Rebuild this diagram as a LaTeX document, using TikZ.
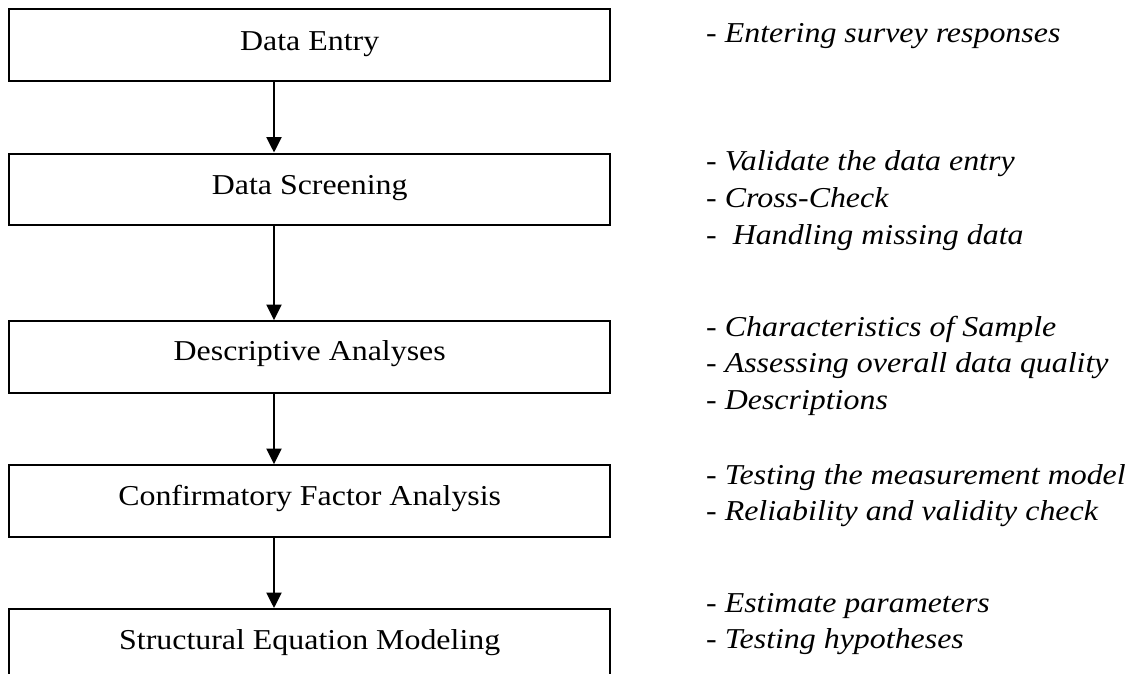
\documentclass[tikz,border=0pt]{standalone}
\usepackage{fontspec}
\setmainfont{Liberation Serif}
\usetikzlibrary{arrows.meta}

\begin{document}
\begin{tikzpicture}[x=1pt,y=-1pt,
  stepbox/.style={draw=black,line width=2pt,rectangle,inner sep=0pt,
    minimum width=600.7pt,minimum height=71.7pt},
  boxtext/.style={anchor=base,inner sep=0pt,xscale=1.108,
    font=\fontsize{28.8}{34}\selectfont},
  note/.style={anchor=base west,inner sep=0pt,xscale=1.108,
    font=\fontsize{28.8}{34}\selectfont\itshape},
  flowarrow/.style={line width=2pt,-{Triangle[length=15.5pt,width=15pt]}}]

  \useasboundingbox (0,0) rectangle (1138,674);
  \clip (0,0) rectangle (1138,674);

  % process boxes (the last one runs past the lower edge)
  \node[stepbox] (b1) at (309.7,45.2) {};
  \node[stepbox] (b2) at (309.7,189.4) {};
  \node[stepbox] (b3) at (309.7,357) {};
  \node[stepbox] (b4) at (309.7,501) {};
  \node[stepbox] (b5) at (309.7,644.9) {};

  % box titles
  \node[boxtext] (t1) at (309.7,50.7) {Data Entry};
  \node[boxtext] (t2) at (309.7,194.3) {Data Screening};
  \node[boxtext] (t3) at (309.7,360.7) {Descriptive Analyses};
  \node[boxtext] (t4) at (309.7,505) {Confirmatory Factor Analysis};
  \node[boxtext] (t5) at (309.7,649) {Structural Equation Modeling};

  % arrows between steps
  \draw[flowarrow] ([xshift=-35.7pt]b1.south) -- ([xshift=-35.7pt]b2.north);
  \draw[flowarrow] ([xshift=-35.7pt]b2.south) -- ([xshift=-35.7pt]b3.north);
  \draw[flowarrow] ([xshift=-35.7pt]b3.south) -- ([xshift=-35.7pt]b4.north);
  \draw[flowarrow] ([xshift=-35.7pt]b4.south) -- ([xshift=-35.7pt]b5.north);

  % notes beside each step
  \node[note] (n11) at (706,42.3)  {- Entering survey responses};

  \node[note] (n21) at (706,170.7) {- Validate the data entry};
  \node[note] (n22) at (706,207.3) {- Cross-Check};
  \node[note] (n23) at (706,244.3) {-\ \ Handling missing data};

  \node[note] (n31) at (706,336.7) {- Characteristics of Sample};
  \node[note] (n32) at (706,372.7) {- Assessing overall data quality};
  \node[note] (n33) at (706,409.3) {- Descriptions};

  \node[note] (n41) at (706,484.3) {- Testing the measurement model};
  \node[note] (n42) at (706,520) {- Reliability and validity check};

  \node[note] (n51) at (706,612.7) {- Estimate parameters};
  \node[note] (n52) at (706,648.3) {- Testing hypotheses};
\end{tikzpicture}
\end{document}
